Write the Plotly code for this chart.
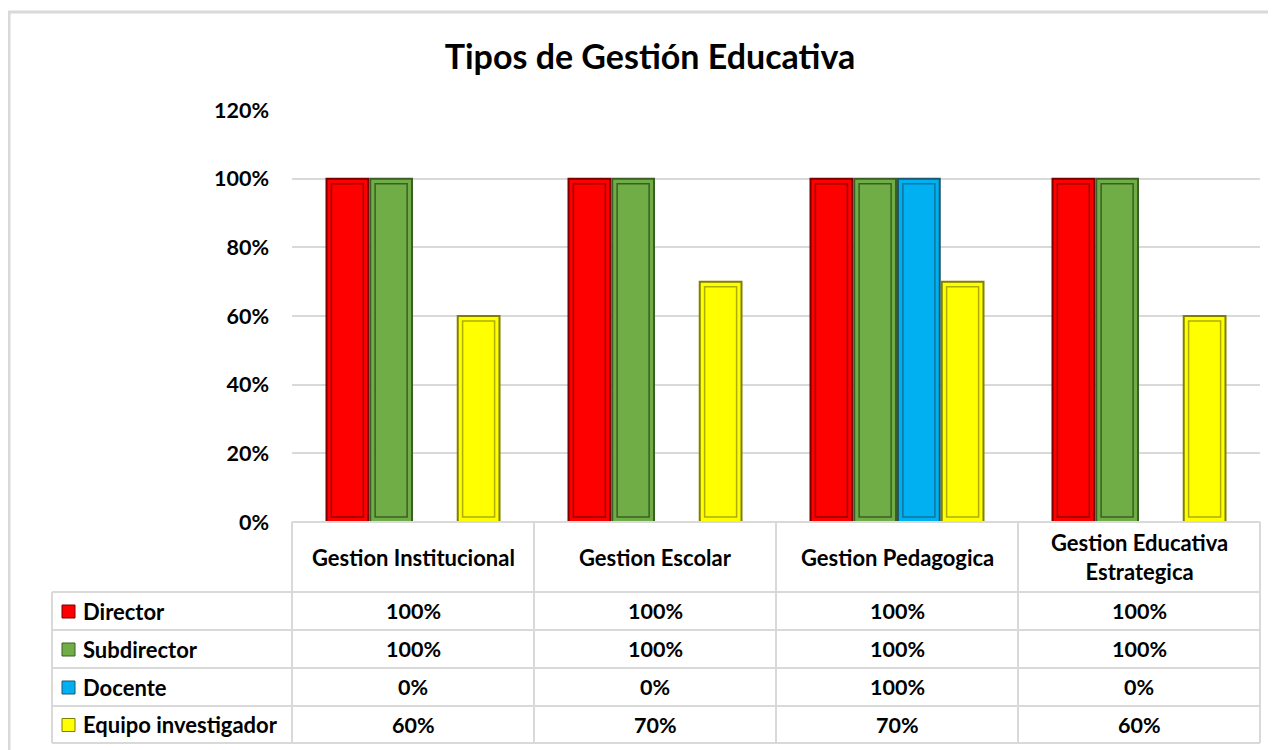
import plotly.graph_objects as go

categories = ["Gestion Institucional", "Gestion Escolar", "Gestion Pedagogica", "Gestion Educativa<br>Estrategica"]
series_names = ["Director", "Subdirector", "Docente", "Equipo investigador"]
director = [1.00, 1.00, 1.00, 1.00]
subdirector = [1.00, 1.00, 1.00, 1.00]
docente = [0.00, 0.00, 1.00, 0.00]
equipo = [0.60, 0.70, 0.70, 0.60]
y_ticks = [0, 0.2, 0.4, 0.6, 0.8, 1.0, 1.2]

series_values = [director, subdirector, docente, equipo]
fill_colors = ["#FF0000", "#70AD47", "#00B0F0", "#FFFF00"]
edge_colors = ["#7A0000", "#3B5E26", "#1B5870", "#7F7F00"]
bevel_colors = ["rgba(110,0,0,0.75)", "rgba(40,70,25,0.75)", "rgba(20,80,110,0.6)", "rgba(120,120,0,0.6)"]

# page body has an 8px margin; figure sized to fill the rest of the window
OFF = 8
W, H = 1276 - OFF, 750 - OFF
FONT = "Lato, Carlito, Calibri, sans-serif"

# layout in screen pixels
PL, PR, PT, PB = 292, 1260, 110, 522
TL = 52
row_lines = [592, 630, 668, 706, 743]
YMAX = 1.2

def px(x):
    return (x - OFF) / W

def py(y):
    return 1 - (y - OFF) / H

col_w = (PR - PL) / len(categories)
unit_px = (PB - PT) / YMAX          # pixels per 1.0 on the value axis
inset_y = 5 / unit_px               # bevel inset in value units
inner_w = 32 / col_w                # bevel inner width in category units

fig = go.Figure()
xidx = list(range(len(categories)))
for name, vals, fc, ec in zip(series_names, series_values, fill_colors, edge_colors):
    fig.add_trace(go.Bar(
        x=xidx, y=[v if v > 0 else None for v in vals], name=name,
        marker=dict(color=fc, line=dict(color=ec, width=2)),
        hoverinfo="skip", showlegend=False,
    ))
# inner bevel outline (decoration on a twin axis, same grouping)
for name, vals, bc in zip(series_names, series_values, bevel_colors):
    fig.add_trace(go.Bar(
        x=xidx, y=[v - 2 * inset_y if v > 0 else None for v in vals],
        base=inset_y, width=inner_w, xaxis="x2", name=name + " bevel",
        marker=dict(color="rgba(0,0,0,0)", line=dict(color=bc, width=1.5)),
        hoverinfo="skip", showlegend=False,
    ))

fig.update_layout(
    width=W, height=H,
    margin=dict(l=0, r=0, t=0, b=0, autoexpand=False),
    paper_bgcolor="white", plot_bgcolor="white",
    barmode="group", bargap=0.277, bargroupgap=0.045,
    font=dict(family=FONT, color="#000000"),
    title=dict(text="Tipos de Gestión Educativa", x=px(650), xanchor="center",
               y=py(57), yanchor="middle", automargin=False,
               font=dict(family=FONT, size=34, weight="bold", color="#000000")),
    xaxis=dict(domain=[px(PL), px(PR)], range=[-0.5, len(categories) - 0.5],
               showticklabels=False, showgrid=False, zeroline=False, showline=False,
               automargin=False, fixedrange=True),
    xaxis2=dict(domain=[px(PL), px(PR)], range=[-0.5, len(categories) - 0.5],
                overlaying="x", matches="x",
                showticklabels=False, showgrid=False, zeroline=False, showline=False,
                automargin=False, fixedrange=True),
    yaxis=dict(domain=[py(PB), py(PT)], range=[0, YMAX], tickvals=y_ticks,
               tickformat=".0%", showgrid=True, gridcolor="#D9D9D9", gridwidth=1.5,
               zeroline=False, showline=False, ticks="",
               ticklabelstandoff=22, automargin=False,
               tickfont=dict(family=FONT, size=21.5, weight="bold", color="#000000"),
               fixedrange=True),
)

shapes = []
LC = "#D9D9D9"
# outer chart border (left and top visible)
shapes.append(dict(type="rect", xref="paper", yref="paper", x0=px(9), x1=px(1300),
                   y0=py(800), y1=py(12), line=dict(color="#D9D9D9", width=3)))
# table horizontal lines
shapes.append(dict(type="line", xref="paper", yref="paper", x0=px(PL), x1=px(PR),
                   y0=py(PB), y1=py(PB), line=dict(color=LC, width=2)))
for yl in row_lines:
    shapes.append(dict(type="line", xref="paper", yref="paper", x0=px(TL), x1=px(PR),
                       y0=py(yl), y1=py(yl), line=dict(color=LC, width=2)))
# vertical lines
for i in range(len(categories) + 1):
    xl = PL + i * col_w
    shapes.append(dict(type="line", xref="paper", yref="paper", x0=px(xl), x1=px(xl),
                       y0=py(PB), y1=py(row_lines[-1]), line=dict(color=LC, width=2)))
shapes.append(dict(type="line", xref="paper", yref="paper", x0=px(TL), x1=px(TL),
                   y0=py(row_lines[0]), y1=py(row_lines[-1]), line=dict(color=LC, width=2)))

TXT = dict(family=FONT, size=22, weight="bold", color="#000000")
annotations = []
# header
for i, cat in enumerate(categories):
    annotations.append(dict(xref="paper", yref="paper", x=px(PL + (i + 0.5) * col_w),
                            y=py((PB + row_lines[0]) / 2), text=cat, showarrow=False,
                            xanchor="center", yanchor="middle", font=TXT))
# rows
for r, (name, vals, fc, ec) in enumerate(zip(series_names, series_values, fill_colors, edge_colors)):
    yc = (row_lines[r] + row_lines[r + 1]) / 2
    shapes.append(dict(type="rect", xref="paper", yref="paper",
                       x0=px(62), x1=px(75), y0=py(yc + 7), y1=py(yc - 6),
                       fillcolor=fc, line=dict(color=ec, width=1)))
    annotations.append(dict(xref="paper", yref="paper", x=px(81), y=py(yc), text=name,
                            showarrow=False, xanchor="left", yanchor="middle", font=TXT))
    for i, v in enumerate(vals):
        annotations.append(dict(xref="paper", yref="paper", x=px(PL + (i + 0.5) * col_w),
                                y=py(yc), text=f"{v:.0%}", showarrow=False,
                                xanchor="center", yanchor="middle",
                                font=dict(TXT, size=21.5)))

fig.update_layout(shapes=shapes, annotations=annotations)
fig.write_html("out.html")
